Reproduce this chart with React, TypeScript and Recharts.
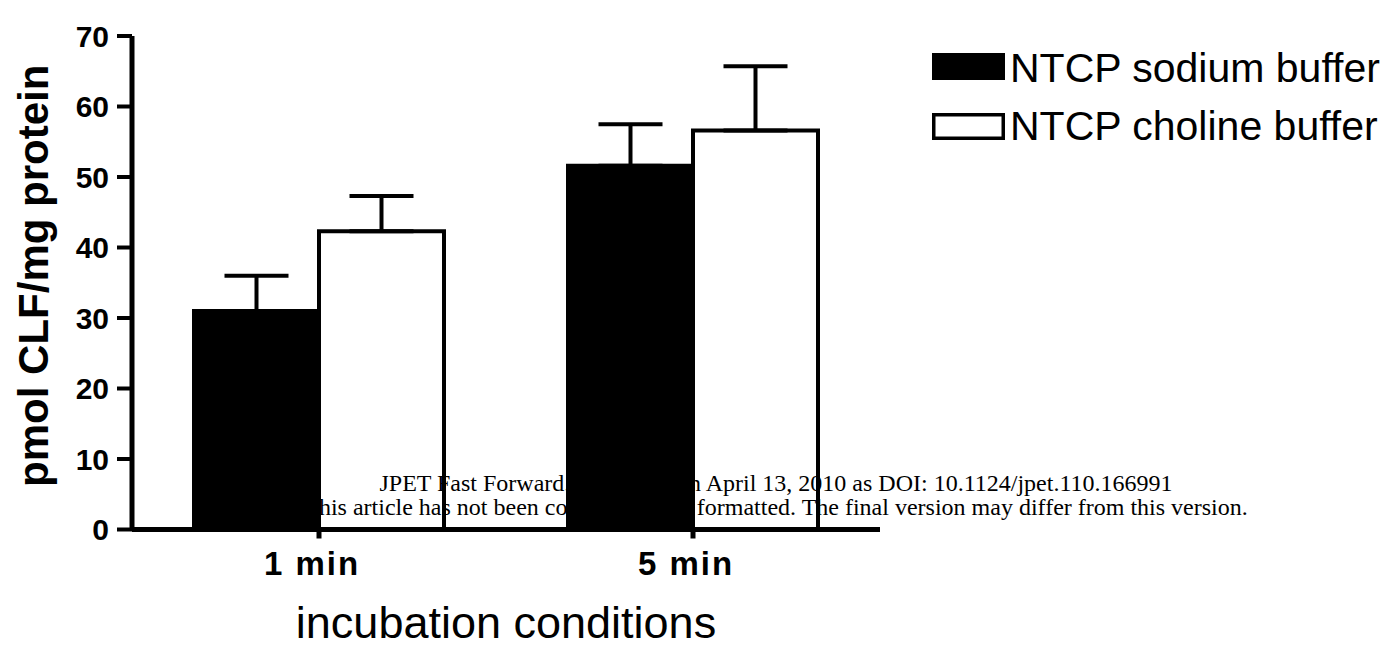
import { Bar, BarChart, ErrorBar, Legend, XAxis, YAxis } from "recharts";

const categories = ["1 min", "5 min"];
const sodiumMean = [31.0, 51.6];
const sodiumSem = [5.0, 5.9];
const cholineMean = [42.3, 56.6];
const cholineSem = [5.0, 9.1];
const yTicks = [0, 10, 20, 30, 40, 50, 60, 70];

const seriesNames: Record<string, string> = {
  sodium: "NTCP sodium buffer",
  choline: "NTCP choline buffer"
};

const data = categories.map((name, i) => ({
  name,
  sodium: sodiumMean[i],
  sodiumErr: [0, sodiumSem[i]],
  choline: cholineMean[i],
  cholineErr: [0, cholineSem[i]]
}));

const SANS = "'Liberation Sans', Arial, Helvetica, sans-serif";
const SERIF = "'Liberation Serif', 'Times New Roman', Times, serif";

function LegendBox() {
  return (
    <svg width={462} height={110} style={{ display: "block" }}>
      <rect x={4} y={13} width={73} height={27} fill="#000" />
      <text x={82} y={42} fontFamily={SANS} fontSize={41} fill="#000">
        {seriesNames.sodium}
      </text>
      <rect x={5.75} y={74.75} width={69.5} height={23.5} fill="#fff" stroke="#000" strokeWidth={3.5} />
      <text x={82} y={100} fontFamily={SANS} fontSize={41} fill="#000">
        {seriesNames.choline}
      </text>
    </svg>
  );
}

function YLabel({ viewBox }: any) {
  const cy = viewBox ? viewBox.y + viewBox.height / 2 - 7 : 276;
  return (
    <text
      x={0}
      y={0}
      transform={`translate(48, ${cy}) rotate(-90)`}
      textAnchor="middle"
      fontFamily={SANS}
      fontWeight="bold"
      fontSize={42}
      fill="#000"
    >
      pmol CLF/mg protein
    </text>
  );
}

export default function App() {
  return (
    <div style={{ position: "absolute", left: 0, top: 0, width: 1390, height: 648, background: "#fff" }}>
      <div
        style={{
          position: "absolute",
          left: 176,
          top: 471,
          width: 1200,
          textAlign: "center",
          fontFamily: SERIF,
          fontSize: 24,
          lineHeight: "24px",
          color: "#000",
          whiteSpace: "nowrap"
        }}
      >
        <div>JPET Fast Forward. Published on April 13, 2010 as DOI: 10.1124/jpet.110.166991</div>
        <div>This article has not been copyedited and formatted. The final version may differ from this version.</div>
      </div>
      <div style={{ position: "absolute", left: 0, top: 0 }}>
        <BarChart
          width={1390}
          height={648}
          data={data}
          margin={{ top: 36, right: 510, bottom: 0, left: 0 }}
          barGap={0}
          barSize={125}
        >
          <XAxis
            dataKey="name"
            height={118.5}
            axisLine={{ stroke: "#000", strokeWidth: 5 }}
            tickLine={{ stroke: "#000", strokeWidth: 5 }}
            tickSize={9}
            tickMargin={13}
            tick={{ fill: "#000", fontFamily: SANS, fontWeight: "bold", fontSize: 33, letterSpacing: 2, dx: -7 }}
            label={{
              value: "incubation conditions",
              position: "insideBottom",
              offset: 10,
              fill: "#000",
              fontFamily: SANS,
              fontSize: 45
            }}
          />
          <YAxis
            width={132}
            domain={[0, 70]}
            ticks={yTicks}
            interval={0}
            axisLine={{ stroke: "#000", strokeWidth: 5 }}
            tickLine={{ stroke: "#000", strokeWidth: 4 }}
            tickSize={15}
            tickMargin={8}
            tick={{ fill: "#000", fontFamily: SANS, fontWeight: "bold", fontSize: 30 }}
            label={{ content: YLabel }}
          />
          <Legend
            layout="vertical"
            align="center"
            verticalAlign="middle"
            wrapperStyle={{ position: "absolute", left: 928, top: 40, width: 462 }}
            content={() => <LegendBox />}
          />
          <Bar
            dataKey="sodium"
            name={seriesNames.sodium}
            fill="#000"
            stroke="#000"
            strokeWidth={4}
            isAnimationActive={false}
          >
            <ErrorBar dataKey="sodiumErr" width={32} stroke="#000" strokeWidth={4} isAnimationActive={false} />
          </Bar>
          <Bar
            dataKey="choline"
            name={seriesNames.choline}
            fill="none"
            stroke="#000"
            strokeWidth={4}
            isAnimationActive={false}
          >
            <ErrorBar dataKey="cholineErr" width={32} stroke="#000" strokeWidth={4} isAnimationActive={false} />
          </Bar>
        </BarChart>
      </div>
    </div>
  );
}
